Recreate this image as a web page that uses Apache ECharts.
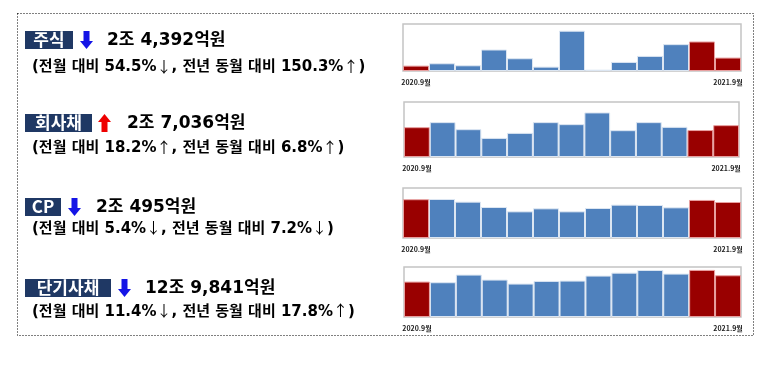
<!DOCTYPE html>
<html><head><meta charset="utf-8">
<script src="https://cdn.jsdelivr.net/npm/echarts@6/dist/echarts.min.js"></script>
<style>html,body{margin:0;padding:0;background:#fff}#c{width:778px;height:369px}</style>
</head><body><div id="c"></div>
<script>
// ===== DATA (억원) =====
const categories = ['2020.9월','2020.10월','2020.11월','2020.12월','2021.1월','2021.2월','2021.3월','2021.4월','2021.5월','2021.6월','2021.7월','2021.8월','2021.9월'];
const stockValues = [9745,14030,10370,39040,23180,7930,73200,2440,16470,27450,48800,53610,24392];
const corpBondValues = [25315,29600,23620,16220,20490,29600,27890,37850,22770,29600,25610,22873,27036];
const cpValues = [22085,22200,20690,17650,15180,16890,15180,17080,18980,18790,17460,21665,20495];
const shortBondValues = [110220,108200,131900,116450,104080,112320,113350,128810,138090,146330,135000,146547,129841];
const highlightIdx = [0, 11, 12];
const axisMax = [85400, 46700, 28470, 155600];
const titles = ['주식','회사채','CP','단기사채'];
const directions = ['down','up','down','down'];
const amounts = ['2조 4,392억원','2조 7,036억원','2조 495억원','12조 9,841억원'];
const changes = ['(전월 대비 54.5%↓, 전년 동월 대비 150.3%↑)','(전월 대비 18.2%↑, 전년 동월 대비 6.8%↑)','(전월 대비 5.4%↓, 전년 동월 대비 7.2%↓)','(전월 대비 11.4%↓, 전년 동월 대비 17.8%↑)'];

// ===== LAYOUT =====
const seriesData = [stockValues, corpBondValues, cpValues, shortBondValues];
const grids = [
  {left:403, top:24, width:338, height:47},
  {left:404, top:102, width:335, height:55},
  {left:403, top:188, width:338, height:50},
  {left:404, top:267, width:337, height:50}
];
const blocks = [
  {boxY:31, boxW:48, arrowX:80, amtX:107, subY:67.5},
  {boxY:114, boxW:67, arrowX:98, amtX:127, subY:148.5},
  {boxY:198, boxW:36, arrowX:68, amtX:96, subY:229},
  {boxY:279, boxW:86, arrowX:118, amtX:145, subY:312}
];
const FONT = '"Noto Sans CJK KR", sans-serif';
const TFONT = '"DejaVu Sans", "Noto Sans CJK KR", sans-serif';

function arrow(x, y, dir, color){
  const w=13, h=18, sw=6, hh=8;
  const cx = x + w/2;
  let pts;
  if(dir==='down'){
    pts=[[cx-sw/2,y],[cx+sw/2,y],[cx+sw/2,y+h-hh],[x+w,y+h-hh],[cx,y+h],[x,y+h-hh],[cx-sw/2,y+h-hh]];
  } else {
    pts=[[cx,y],[x+w,y+hh],[cx+sw/2,y+hh],[cx+sw/2,y+h],[cx-sw/2,y+h],[cx-sw/2,y+hh],[x,y+hh]];
  }
  return {type:'polygon', shape:{points:pts}, style:{fill:color}};
}
function richify(s){
  return s.split(/([↓↑])/).filter(p=>p.length).map(p=> (p==='↓'||p==='↑') ? '{ar|'+p+'}' : '{t|'+p+'}').join('');
}

const graphic = [
  {type:'rect', shape:{x:17.5, y:13.5, width:736, height:322}, style:{fill:'none', stroke:'#000', lineWidth:1, lineDash:[1,2]}}
];
blocks.forEach((b,i)=>{
  graphic.push({type:'rect', shape:{x:25, y:b.boxY, width:b.boxW, height:18}, style:{fill:'#1f3864'}});
  graphic.push({type:'text', x:25+b.boxW/2, y:b.boxY+9, style:{text:titles[i], fill:'#fff', font:'bold 17px '+FONT, textAlign:'center', textVerticalAlign:'middle'}});
  graphic.push(arrow(b.arrowX, b.boxY, directions[i], directions[i]==='down' ? '#1414e6' : '#ee0000'));
  graphic.push({type:'text', x:b.amtX, y:b.boxY+9.5, style:{text:amounts[i], fill:'#000', font:'bold 17px '+TFONT, textAlign:'left', textVerticalAlign:'middle'}});
  graphic.push({type:'text', x:32, y:b.subY, style:{
    text:richify(changes[i]), textAlign:'left', textVerticalAlign:'middle',
    rich:{
      t:{fill:'#000', fontWeight:'bold', fontSize:15, fontFamily:TFONT, verticalAlign:'middle', lineHeight:18},
      ar:{fill:'#000', fontWeight:'normal', fontSize:15, fontFamily:FONT, verticalAlign:'middle', lineHeight:18, padding:[0,0,3,0]}
    }
  }});
});

const option = {
  animation:false,
  grid: grids.map(g=>Object.assign({show:true, borderColor:'#c4c4c4', borderWidth:1.5, backgroundColor:'#fff'}, g)),
  xAxis: grids.map((g,i)=>({
    type:'category', gridIndex:i, data:categories,
    axisLine:{show:false}, axisTick:{show:false}, splitLine:{show:false},
    axisLabel:{interval:(idx)=> idx===0 || idx===categories.length-1, fontSize:7, fontWeight:'bold', color:'#222', margin:8, fontFamily:FONT}
  })),
  yAxis: grids.map((g,i)=>({type:'value', gridIndex:i, min:0, max:axisMax[i], show:false, splitLine:{show:false}})),
  series: seriesData.map((d,i)=>({
    type:'bar', xAxisIndex:i, yAxisIndex:i, barCategoryGap:'0%',
    data: d.map((v,k)=>({value:v, itemStyle: highlightIdx.includes(k)
      ? {color:'#990000', borderColor:'#e8a0a0', borderWidth:1}
      : {color:'#4f81bd', borderColor:'#dce6f2', borderWidth:1}}))
  })),
  graphic: graphic
};
echarts.init(document.getElementById('c')).setOption(option);
</script></body></html>
